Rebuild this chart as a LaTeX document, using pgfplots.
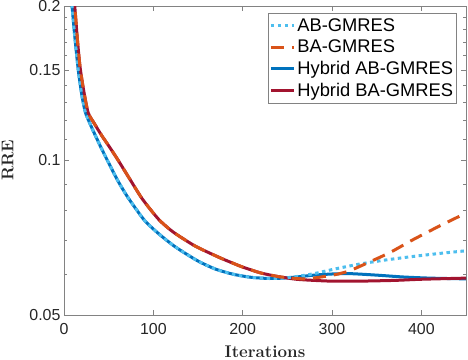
\documentclass[border=0pt]{standalone}
\usepackage{pgfplots}
\pgfplotsset{compat=1.18}
\usepackage{fontspec}
\newfontfamily\hel{Liberation Sans}
\definecolor{cAB}{HTML}{4DBEEE}
\definecolor{cBA}{HTML}{D95319}
\definecolor{cHAB}{HTML}{0072BD}
\definecolor{cHBA}{HTML}{A2142F}
\definecolor{axgray}{RGB}{130,130,130}
\definecolor{txt}{RGB}{38,38,38}
\begin{document}
\begin{tikzpicture}
\begin{axis}[
  at={(0,0)}, anchor=south west,
  scale only axis, width=402bp, height=309bp,
  xmin=0, xmax=450, ymin=0.05, ymax=0.2, ymode=log,
  xtick={0,100,200,300,400},
  ytick={0.05,0.1,0.15,0.2}, yticklabels={0.05,0.1,0.15,0.2},
  minor ytick={0.06,0.07,0.08,0.09,0.11,0.12,0.13,0.14,0.16,0.17,0.18,0.19},
  tick align=inside, major tick length=5bp, minor tick length=3bp,
  axis line style={axgray, line width=0.6bp},
  every tick/.style={axgray, line width=0.6bp},
  tick label style={font=\hel\fontsize{16}{18}\selectfont, text=txt},
  xticklabel style={yshift=-5bp},
  /pgf/number format/assume math mode=true,
  xlabel={\textbf{Iterations}}, ylabel={\textbf{RRE}},
  label style={font=\fontsize{17}{20}\selectfont, text=txt},
  xlabel style={at={(axis description cs:0.5,0)}, anchor=base, yshift=-42bp},
  ylabel style={yshift=9bp},
  legend cell align=left,
  legend style={at={(rel axis cs:1,1)}, anchor=north east, xshift=-9bp, yshift=-7bp,
    font=\hel\fontsize{18.4}{21}\selectfont, text=black, draw=axgray, line width=0.6bp,
    inner xsep=1.5bp, inner ysep=3.5bp, row sep=3bp},
  legend image code/.code={\draw[#1] (0bp,0bp) -- (23bp,0bp);},
  legend entries={AB-GMRES, BA-GMRES, Hybrid AB-GMRES, Hybrid BA-GMRES},
  every axis plot/.append style={smooth, tension=0.4},
]
\addlegendimage{cAB, line width=3bp, dash pattern=on 3.5bp off 3.5bp}
\addlegendimage{cBA, line width=3bp, dash pattern=on 13bp off 8bp}
\addlegendimage{cHAB, line width=3bp}
\addlegendimage{cHBA, line width=3bp}

% Hybrid AB-GMRES
\addplot[cHAB, line width=3bp, forget plot] coordinates {
(6,0.228) (9,0.200) (12,0.175) (16,0.150) (20,0.134) (24,0.124) (30,0.1170)
(36,0.1110) (42,0.1055) (48,0.1005) (60,0.0915) (72,0.0845) (90,0.0765)
(106,0.0720) (125,0.0678) (150,0.0637) (170,0.0614) (190,0.0600) (210,0.0592)
(230,0.0589) (245,0.0590) (260,0.0593) (280,0.0598) (300,0.0601) (320,0.0602)
(350,0.0598) (380,0.0593) (410,0.0590) (450,0.0588)};
% Hybrid BA-GMRES
\addplot[cHBA, line width=3bp, forget plot] coordinates {
(8,0.235) (12,0.200) (15,0.172) (18,0.152) (22,0.137) (27,0.124) (34,0.1180)
(42,0.1120) (51,0.1062) (60,0.1005) (74,0.0918) (88,0.0840) (106,0.0768)
(122,0.0726) (147,0.0681) (175,0.0646) (190,0.0630) (200,0.0620) (220,0.0604)
(240,0.0594) (260,0.0587) (280,0.0584) (300,0.0582) (330,0.0582) (370,0.0584)
(400,0.0587) (450,0.0590)};
% AB-GMRES
\addplot[cAB, line width=3bp, dash pattern=on 3.5bp off 3.5bp, forget plot] coordinates {
(6,0.228) (9,0.200) (12,0.175) (16,0.150) (20,0.134) (24,0.124) (30,0.1170)
(36,0.1110) (42,0.1055) (48,0.1005) (60,0.0915) (72,0.0845) (90,0.0765)
(106,0.0720) (125,0.0678) (150,0.0637) (170,0.0614) (190,0.0600) (210,0.0592)
(230,0.0589) (245,0.0590) (260,0.0594) (280,0.0602) (300,0.0613) (330,0.0628)
(360,0.0640) (390,0.0650) (420,0.0659) (450,0.0667)};
% BA-GMRES
\addplot[cBA, line width=3bp, dash pattern=on 13bp off 8bp, forget plot] coordinates {
(8,0.235) (12,0.200) (15,0.172) (18,0.152) (22,0.137) (27,0.124) (34,0.1180)
(42,0.1120) (51,0.1062) (60,0.1005) (74,0.0918) (88,0.0840) (106,0.0768)
(122,0.0726) (147,0.0681) (175,0.0646) (190,0.0630) (200,0.0620) (220,0.0604)
(240,0.0594) (255,0.0590) (270,0.0588) (285,0.0592) (305,0.0600) (320,0.0610)
(340,0.0632) (365,0.0662) (390,0.0700) (420,0.0745) (450,0.0790)};
\end{axis}
\pgfresetboundingbox
\path (-64bp,-45bp) rectangle (404bp,315bp);
\end{tikzpicture}
\end{document}
